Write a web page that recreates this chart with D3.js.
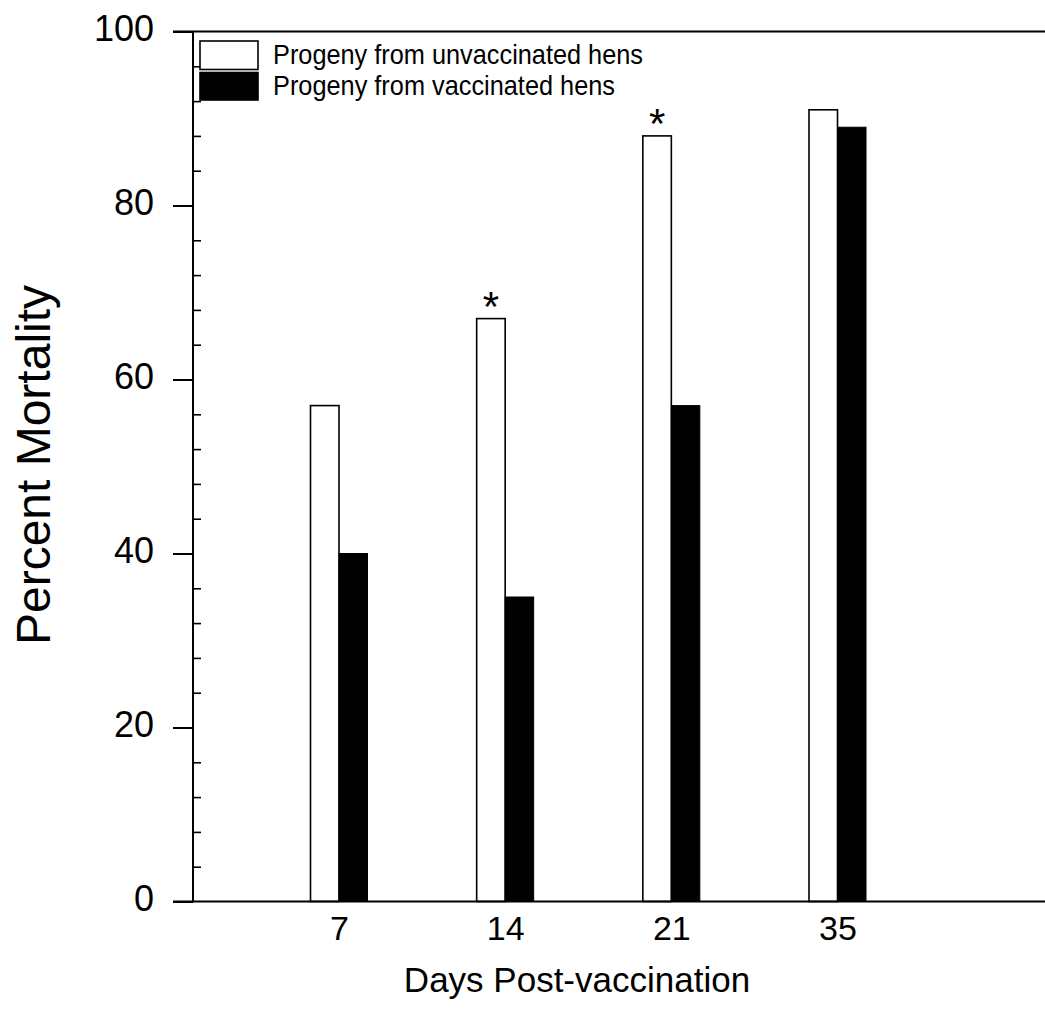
<!DOCTYPE html>
<html>
<head>
<meta charset="utf-8">
<script src="https://cdn.jsdelivr.net/npm/d3@7"></script>
<style>
  html, body { margin: 0; padding: 0; background: #fff; }
  svg { display: block; }
  text { font-family: "Liberation Sans", Arial, sans-serif; fill: #000; }
</style>
</head>
<body>
<svg id="chart" width="1045" height="1009"></svg>
<script>
// ---- data ----
const days = ["7", "14", "21", "35"];
const unvaccinated = [57, 67, 88, 91];
const vaccinated = [40, 35, 57, 89];
const significant = [false, true, true, false];
const seriesNames = ["Progeny from unvaccinated hens", "Progeny from vaccinated hens"];
const seriesFills = ["#ffffff", "#000000"];
const yMajorTicks = [0, 20, 40, 60, 80, 100];
const yMinorTicks = [4, 8, 12, 16, 24, 28, 32, 36, 44, 48, 52, 56, 64, 68, 72, 76, 84, 88, 92, 96];
const xTitle = "Days Post-vaccination";
const yTitle = "Percent Mortality";

// ---- layout ----
const W = 1045, H = 1009;
const axisLeft = 193, plotTop = 31.5, plotBottom = 901.5;
const svg = d3.select("#chart");

const x = d3.scalePoint().domain(days).range([339, 837.5]);
const y = d3.scaleLinear().domain([0, 100]).range([plotBottom, plotTop]);
const bw = 28.5;

// bars
const g = svg.append("g");
g.selectAll("rect.unvac").data(days).join("rect")
  .attr("class", "unvac")
  .attr("x", d => x(d) - bw)
  .attr("width", bw)
  .attr("y", (d, i) => y(unvaccinated[i]))
  .attr("height", (d, i) => y(0) - y(unvaccinated[i]))
  .attr("fill", seriesFills[0]).attr("stroke", "#000").attr("stroke-width", 1.6);

g.selectAll("rect.vac").data(days).join("rect")
  .attr("class", "vac")
  .attr("x", d => x(d))
  .attr("width", bw)
  .attr("y", (d, i) => y(vaccinated[i]))
  .attr("height", (d, i) => y(0) - y(vaccinated[i]))
  .attr("fill", seriesFills[1]).attr("stroke", "#000").attr("stroke-width", 1);

// significance asterisks
const astSize = 42;
g.selectAll("text.ast").data(days.filter((d, i) => significant[i])).join("text")
  .attr("class", "ast")
  .attr("x", d => x(d) - bw / 2)
  .attr("y", d => y(unvaccinated[days.indexOf(d)]) - 16 + 0.43 * astSize)
  .attr("text-anchor", "middle")
  .attr("font-size", astSize)
  .text("*");

// frame lines (top and bottom)
svg.append("line").attr("x1", 173).attr("x2", W).attr("y1", plotTop).attr("y2", plotTop)
  .attr("stroke", "#000").attr("stroke-width", 2);
svg.append("line").attr("x1", 173).attr("x2", W).attr("y1", plotBottom).attr("y2", plotBottom)
  .attr("stroke", "#000").attr("stroke-width", 2);

// y axis major ticks (outward) with labels
const yAxisMajor = svg.append("g").attr("transform", `translate(${axisLeft},0)`)
  .call(d3.axisLeft(y).tickValues(yMajorTicks).tickSize(20).tickPadding(19).tickFormat(d3.format("d")));
yAxisMajor.select(".domain").remove();
yAxisMajor.selectAll(".tick line").attr("stroke", "#000").attr("stroke-width", 2);
yAxisMajor.selectAll(".tick text")
  .attr("font-size", 36).attr("font-family", "Liberation Sans, Arial, sans-serif")
  .attr("dy", "8.5").attr("fill", "#000");

// y axis minor ticks (inward)
const yAxisMinor = svg.append("g").attr("transform", `translate(${axisLeft},0)`)
  .call(d3.axisRight(y).tickValues(yMinorTicks).tickSize(8).tickFormat(""));
yAxisMinor.select(".domain").remove();
yAxisMinor.selectAll(".tick line").attr("stroke", "#000").attr("stroke-width", 1.6);

// y axis line
svg.append("line").attr("x1", axisLeft).attr("x2", axisLeft).attr("y1", plotTop).attr("y2", plotBottom)
  .attr("stroke", "#000").attr("stroke-width", 2);

// x axis labels (no tick marks)
const xAxis = svg.append("g").attr("transform", `translate(0,${plotBottom})`)
  .call(d3.axisBottom(x).tickSize(0).tickPadding(0));
xAxis.select(".domain").remove();
xAxis.selectAll(".tick text")
  .attr("font-size", 34).attr("font-family", "Liberation Sans, Arial, sans-serif")
  .attr("dy", null).attr("y", 38.5).attr("fill", "#000");

// axis titles
svg.append("text").attr("x", 577).attr("y", 992).attr("text-anchor", "middle")
  .attr("font-size", 35).text(xTitle);
svg.append("text").attr("transform", "translate(50,465) rotate(-90)")
  .attr("text-anchor", "middle").attr("font-size", 48).text(yTitle);

// legend
const legendY = [41, 72.5];
const legendTextLen = [370, 342];
const legend = svg.append("g");
legend.selectAll("rect").data(seriesNames).join("rect")
  .attr("x", 200).attr("y", (d, i) => legendY[i])
  .attr("width", 58).attr("height", (d, i) => i === 0 ? 28.5 : 27.5)
  .attr("fill", (d, i) => seriesFills[i]).attr("stroke", "#000").attr("stroke-width", 1.6);
legend.selectAll("text").data(seriesNames).join("text")
  .attr("x", 273).attr("y", (d, i) => legendY[i] + 22.5)
  .attr("font-size", 28)
  .attr("textLength", (d, i) => legendTextLen[i])
  .attr("lengthAdjust", "spacingAndGlyphs")
  .text(d => d);
</script>
</body>
</html>
